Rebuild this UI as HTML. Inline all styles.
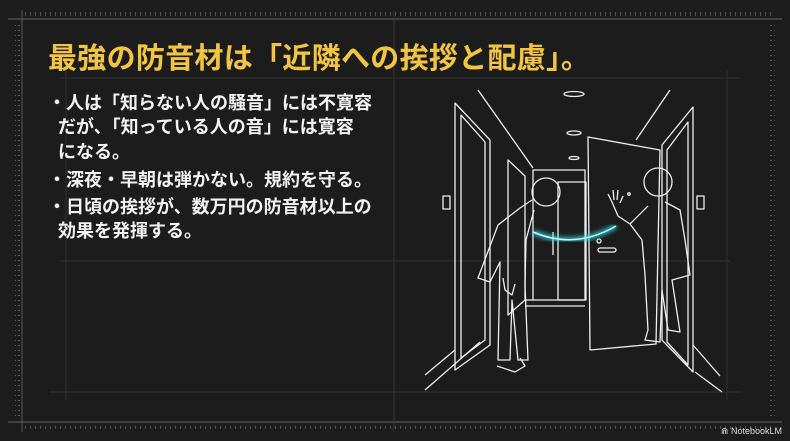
<!DOCTYPE html>
<html><head><meta charset="utf-8"><style>
html,body{margin:0;padding:0;background:#1b1b1b;}
#c{position:relative;width:790px;height:441px;overflow:hidden;background:#1c1c1c;font-family:"Liberation Sans","Noto Sans CJK JP",sans-serif;}
h1{position:absolute;left:48px;top:35px;margin:0;font-size:29px;font-weight:bold;color:#f2c444;letter-spacing:0.3px;white-space:nowrap;}
.t{position:absolute;left:48px;color:#f2f2f2;font-size:18px;font-weight:bold;white-space:nowrap;line-height:24px;}
.logo{position:absolute;right:8px;bottom:4px;color:#ddd;font-size:9px;}
</style></head><body><div id="c">
<svg width="790" height="441" style="position:absolute;left:0;top:0">
<defs>
<pattern id="hx" width="5" height="6" patternUnits="userSpaceOnUse"><line x1="0.5" y1="0" x2="0.5" y2="4" stroke="#6a6a6a" stroke-width="0.7"/></pattern>
<pattern id="vx" width="6" height="5" patternUnits="userSpaceOnUse"><line x1="0" y1="0.5" x2="4" y2="0.5" stroke="#6a6a6a" stroke-width="0.7"/></pattern>
<filter id="gl"><feGaussianBlur stdDeviation="2.5"/></filter>
</defs>
<rect x="22" y="12" width="750" height="5" fill="url(#hx)"/>
<line x1="8" y1="19" x2="782" y2="19" stroke="#666" stroke-width="1"/>
<rect x="22" y="424" width="750" height="5" fill="url(#hx)"/>
<line x1="8" y1="422" x2="782" y2="422" stroke="#666" stroke-width="1"/>
<rect x="15" y="22" width="5" height="395" fill="url(#vx)"/>
<rect x="770" y="22" width="5" height="395" fill="url(#vx)"/>
<line x1="22" y1="10" x2="22" y2="432" stroke="#555"/>
<line x1="394" y1="10" x2="394" y2="432" stroke="#333"/>
<g stroke="#2f2f2f" stroke-width="1">
<line x1="60" y1="78" x2="740" y2="78"/>
<line x1="60" y1="261" x2="730" y2="261"/>
<line x1="50" y1="392" x2="740" y2="392"/>
<line x1="66" y1="70" x2="66" y2="400"/>
<line x1="727" y1="70" x2="727" y2="400"/>
</g>
<g fill="none" stroke="#eee" stroke-width="1.3" stroke-linejoin="round">
<line x1="478" y1="90" x2="533" y2="168"/>
<line x1="670" y1="90" x2="636" y2="140"/>
<polygon points="455,103 490,140 490,345 455,370"/>
<polygon points="461,115 485,142 485,340 461,358"/>
<polygon points="508,160 525,176 525,300 508,315"/>
<rect x="533" y="170" width="52" height="130"/>
<rect x="558" y="182" width="28" height="118"/>
<line x1="525" y1="300" x2="533" y2="300"/>
<line x1="525" y1="306" x2="585" y2="306"/>
<polygon points="588,137 660,150 656,344 590,350"/>
<polygon points="662,145 693,107 693,372 662,340"/>
<polygon points="667,150 688,122 688,365 667,342"/>
<line x1="425" y1="390" x2="480" y2="342"/>
<line x1="425" y1="375" x2="455" y2="350"/>
<line x1="695" y1="372" x2="722" y2="392"/>
<line x1="693" y1="345" x2="720" y2="376"/>
<ellipse cx="574" cy="94" rx="10" ry="2.5"/>
<ellipse cx="574" cy="133" rx="7" ry="2"/>
<ellipse cx="574" cy="158" rx="5" ry="1.5"/>
<rect x="443" y="196" width="7" height="13"/>
<rect x="697" y="196" width="7" height="13"/>
<line x1="553" y1="232" x2="553" y2="255"/>
<rect x="598" y="248" width="18" height="4" rx="2"/>
<circle cx="599" cy="241" r="2"/>
<circle cx="629" cy="194" r="1.2"/>
<circle cx="546" cy="192" r="14"/>
<path d="M532 200 L520 208 L498 225 L478 278 L490 282 L500 262 L498 360 L510 360 L512 300 L518 360 L528 360 L525 285 L526 240 L534 210"/>
<path d="M503 278 L505 290 L512 295 L515 284"/>
<path d="M497 366 L515 372 L525 366 L520 358"/>
<circle cx="658" cy="182" r="14"/>
<path d="M648 206 L630 224 L618 216 L612 202 M630 224 L642 240 L645 275 L648 330 L645 340 L660 342 L662 290 L668 330 L680 332 L672 280 L690 275 L685 240 L680 210 L665 202"/>
<path d="M612 202 L608 194 M614 200 L613 190 M617 200 L618 190 M620 203 L623 196"/>
</g>
<path d="M533 232 Q575 250 616 226" stroke="#30e0f0" stroke-width="5" fill="none" filter="url(#gl)" opacity="0.8"/>
<path d="M533 232 Q575 250 616 226" stroke="#bff8ff" stroke-width="1.5" fill="none"/>
</svg>
<h1>最強の防音材は「近隣への挨拶と配慮」。</h1>
<div class="t" style="top:91px">・人は「知らない人の騒音」には不寛容</div>
<div class="t" style="top:115px">&nbsp;&nbsp;だが、「知っている人の音」には寛容</div>
<div class="t" style="top:140px">&nbsp;&nbsp;になる。</div>
<div class="t" style="top:168px">・深夜・早朝は弾かない。規約を守る。</div>
<div class="t" style="top:195px">・日頃の挨拶が、数万円の防音材以上の</div>
<div class="t" style="top:219px">&nbsp;&nbsp;効果を発揮する。</div>
<div class="logo">⋒ NotebookLM</div>
</div></body></html>
